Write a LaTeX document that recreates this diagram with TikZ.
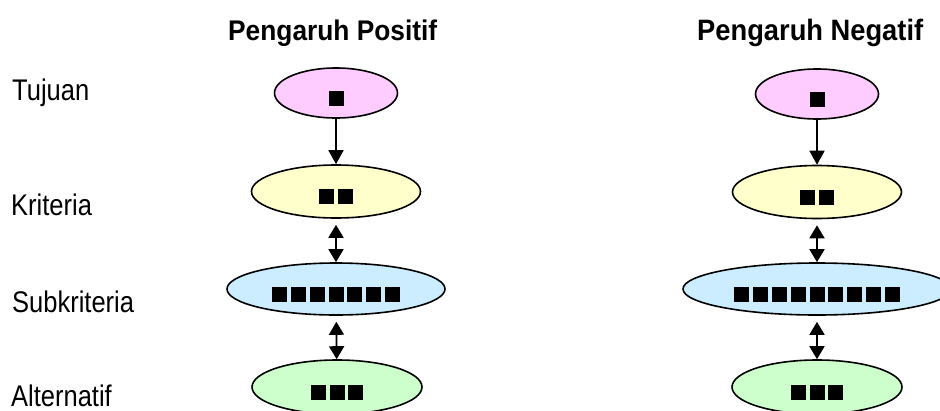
\documentclass[tikz,border=0pt]{standalone}
\usepackage{fontspec}
\setmainfont{Liberation Sans}
\usetikzlibrary{shapes.geometric,arrows.meta}

\definecolor{goalfill}{HTML}{FFCCFF}
\definecolor{critfill}{HTML}{FFFFCC}
\definecolor{subfill}{HTML}{CCECFF}
\definecolor{altfill}{HTML}{CCFFCC}

% black placeholder blocks inside the ellipses
\newcommand\sqb{\rule{15pt}{15pt}}
\newcommand\sqgap{\hspace{3.8pt}}

\tikzset{
  levelnode/.style={ellipse, draw=black, line width=1.6pt, inner sep=0pt,
    text height=25pt, text depth=0pt, align=center},
  goal/.style={levelnode, fill=goalfill, minimum width=123pt, minimum height=50pt},
  crit/.style={levelnode, fill=critfill, minimum width=169pt, minimum height=53pt},
  alt/.style={levelnode, fill=altfill, minimum width=170pt, minimum height=54pt},
  rowlabel/.style={anchor=base west, inner sep=0pt, font=\fontsize{25.5}{30}\selectfont},
  headtitle/.style={anchor=base west, inner sep=0pt},
  onearrow/.style={line width=1.8pt, -{Triangle[length=14pt,width=15pt]}},
  twoarrow/.style={line width=1.8pt, {Triangle[length=13pt,width=15pt]}-{Triangle[length=13pt,width=15pt]},
    shorten <=6pt},
}

\begin{document}
\begin{tikzpicture}[x=1pt, y=-1pt]
  \useasboundingbox (0,0) rectangle (940,410);
  \clip (0,0) rectangle (940,410);

  % column headings
  \node[headtitle] (tpos) at (228,40)
    {\scalebox{1}[1.08]{\fontsize{26.3}{30}\selectfont\bfseries Pengaruh Positif}};
  \node[headtitle] (tneg) at (697,40)
    {\scalebox{1}[1.08]{\fontsize{27.3}{30}\selectfont\bfseries Pengaruh Negatif}};

  % hierarchy level names
  \node[rowlabel] (ltuj) at (12,100) {\scalebox{1}[1.17]{Tujuan}};
  \node[rowlabel] (lkri) at (11,215) {\scalebox{1}[1.17]{Kriteria}};
  \node[rowlabel] (lsub) at (12,312) {\scalebox{1}[1.17]{Subkriteria}};
  \node[rowlabel] (lalt) at (11,406.5) {\scalebox{1}[1.17]{Alternatif}};

  % positive-influence hierarchy
  \node[goal] (pg) at (336,93) {\sqb};
  \node[crit] (pk) at (336,191.5) {\sqb\sqgap\sqb};
  \node[levelnode, fill=subfill, minimum width=218pt, minimum height=52pt] (ps) at (336,289)
    {\sqb\sqgap\sqb\sqgap\sqb\sqgap\sqb\sqgap\sqb\sqgap\sqb\sqgap\sqb};
  \node[alt] (pa) at (337,387) {\sqb\sqgap\sqb\sqgap\sqb};

  % negative-influence hierarchy
  \node[goal] (ng) at (817,94) {\sqb};
  \node[crit] (nk) at (817,192) {\sqb\sqgap\sqb};
  \node[levelnode, fill=subfill, minimum width=268pt, minimum height=52pt] (ns) at (817,289)
    {\sqb\sqgap\sqb\sqgap\sqb\sqgap\sqb\sqgap\sqb\sqgap\sqb\sqgap\sqb\sqgap\sqb\sqgap\sqb};
  \node[alt] (na) at (817,387) {\sqb\sqgap\sqb\sqgap\sqb};

  % connectors
  \draw[onearrow] (pg) -- (pk);
  \draw[twoarrow] (pk) -- (ps);
  \draw[twoarrow] (ps) -- (pa);

  \draw[onearrow] (ng) -- (nk);
  \draw[twoarrow] (nk) -- (ns);
  \draw[twoarrow] (ns) -- (na);
\end{tikzpicture}
\end{document}
